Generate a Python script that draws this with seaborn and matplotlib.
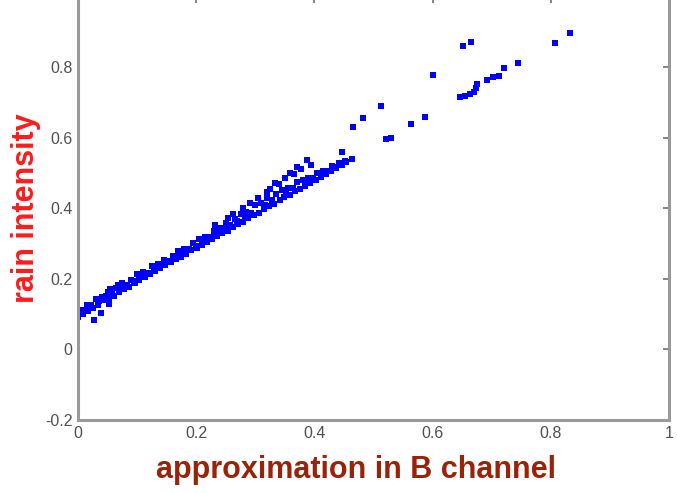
from pathlib import Path

import pandas as pd
import seaborn as sns
from matplotlib import pyplot as plt

# lower edge of the dense band
band_low_x = [
    0.000, 0.008, 0.017, 0.026, 0.034, 0.043, 0.052, 0.061, 0.069, 0.078,
    0.087, 0.096, 0.104, 0.113, 0.122, 0.131, 0.139, 0.148, 0.157, 0.166,
    0.174, 0.183, 0.192, 0.201, 0.209, 0.218, 0.227, 0.236, 0.244, 0.253,
    0.262, 0.271, 0.279, 0.288, 0.297, 0.306, 0.314, 0.323, 0.332, 0.341,
    0.349, 0.358, 0.367, 0.376, 0.384, 0.393, 0.402, 0.411, 0.419, 0.428,
    0.437, 0.446, 0.454, 0.463,
]
band_low_y = [
    0.093, 0.101, 0.108, 0.117, 0.127, 0.139, 0.146, 0.152, 0.163, 0.171,
    0.177, 0.188, 0.197, 0.206, 0.214, 0.223, 0.231, 0.238, 0.247, 0.256,
    0.262, 0.270, 0.281, 0.288, 0.295, 0.305, 0.312, 0.321, 0.330, 0.337,
    0.346, 0.356, 0.362, 0.372, 0.381, 0.388, 0.397, 0.406, 0.413, 0.423,
    0.431, 0.438, 0.448, 0.455, 0.464, 0.473, 0.480, 0.490, 0.498, 0.505,
    0.514, 0.524, 0.531, 0.541,
]

# middle of the dense band
band_mid_x = [
    0.010, 0.022, 0.036, 0.048, 0.058, 0.072, 0.083, 0.094, 0.107, 0.118,
    0.129, 0.142, 0.153, 0.164, 0.177, 0.188, 0.199, 0.212, 0.223, 0.234,
    0.247, 0.258, 0.269, 0.282, 0.293, 0.316, 0.328, 0.352, 0.363, 0.386,
    0.398, 0.421, 0.433, 0.451,
]
band_mid_y = [
    0.113, 0.125, 0.137, 0.151, 0.159, 0.173, 0.182, 0.195, 0.206, 0.217,
    0.227, 0.241, 0.250, 0.261, 0.272, 0.285, 0.294, 0.308, 0.319, 0.328,
    0.343, 0.352, 0.365, 0.376, 0.388, 0.409, 0.423, 0.445, 0.457, 0.476,
    0.486, 0.507, 0.518, 0.534,
]

# upper part of the dense band
band_high_x = [
    0.004, 0.015, 0.030, 0.041, 0.055, 0.064, 0.075, 0.090, 0.100, 0.110,
    0.125, 0.135, 0.145, 0.160, 0.170, 0.180, 0.195, 0.205, 0.215, 0.230,
    0.240, 0.250, 0.265, 0.275, 0.285, 0.300, 0.310, 0.320, 0.335, 0.345,
    0.355, 0.370, 0.380, 0.390, 0.405, 0.415, 0.430, 0.442,
]
band_high_y = [
    0.111, 0.127, 0.144, 0.150, 0.170, 0.174, 0.187, 0.198, 0.213, 0.220,
    0.236, 0.242, 0.254, 0.265, 0.279, 0.286, 0.301, 0.314, 0.319, 0.337,
    0.344, 0.358, 0.369, 0.383, 0.390, 0.408, 0.415, 0.428, 0.440, 0.453,
    0.458, 0.474, 0.480, 0.487, 0.500, 0.507, 0.520, 0.529,
]

# scattered points away from the band
spread_x = [
    0.027, 0.039, 0.052, 0.051, 0.068, 0.232, 0.254, 0.262, 0.280, 0.291,
    0.305, 0.319, 0.325, 0.333, 0.340, 0.350, 0.359, 0.365, 0.371, 0.378,
    0.387, 0.395, 0.447, 0.465, 0.482, 0.513, 0.521, 0.530, 0.563, 0.587,
    0.601, 0.646, 0.655, 0.663, 0.670, 0.673, 0.675, 0.651, 0.665, 0.692,
    0.702, 0.712, 0.721, 0.745, 0.807, 0.832,
]
spread_y = [
    0.083, 0.103, 0.128, 0.163, 0.182, 0.352, 0.372, 0.385, 0.400, 0.415,
    0.428, 0.446, 0.455, 0.471, 0.468, 0.485, 0.500, 0.497, 0.517, 0.512,
    0.537, 0.522, 0.559, 0.630, 0.656, 0.690, 0.596, 0.599, 0.638, 0.658,
    0.777, 0.715, 0.718, 0.724, 0.729, 0.740, 0.752, 0.859, 0.871, 0.763,
    0.772, 0.775, 0.797, 0.811, 0.868, 0.896,
]

x_ticks = [0, 0.2, 0.4, 0.6, 0.8, 1]
x_tick_labels = ["0", "0.2", "0.4", "0.6", "0.8", "1"]
y_ticks = [-0.2, 0, 0.2, 0.4, 0.6, 0.8]
y_tick_labels = ["-0.2", "0", "0.2", "0.4", "0.6", "0.8"]

AXIS_GREY = "#9a9a9a"
TICK_TEXT = "#505050"


def build_points() -> pd.DataFrame:
    xs = band_low_x + band_mid_x + band_high_x + spread_x
    ys = band_low_y + band_mid_y + band_high_y + spread_y
    return pd.DataFrame({"approx_b": xs, "rain": ys})


def save_scatter(df: pd.DataFrame, output_path: str | Path) -> Path:
    output_path = Path(output_path)

    sns.set_theme(style="white")
    plt.rcParams["font.family"] = ["Liberation Sans", "DejaVu Sans"]

    fig = plt.figure(figsize=(6.77, 4.93), dpi=100)
    # axes top sits just above the image edge, like the source
    ax = fig.add_axes([0.1152, 0.148, 0.873, 0.859])

    sns.scatterplot(
        data=df,
        x="approx_b",
        y="rain",
        marker="s",
        s=16,
        color="#0000ff",
        linewidth=0,
        ax=ax,
    )

    ax.set_xlim(0, 1)
    ax.set_ylim(-0.2, 1.0)
    ax.set_xticks(x_ticks, x_tick_labels)
    ax.set_yticks(y_ticks, y_tick_labels)
    ax.tick_params(
        direction="in",
        length=4,
        width=1.2,
        color="#707070",
        labelsize=11.5,
        labelcolor=TICK_TEXT,
        top=True,
        right=True,
        pad=4,
    )
    for spine in ax.spines.values():
        spine.set_visible(True)
        spine.set_color(AXIS_GREY)
        spine.set_linewidth(2.2)

    ax.set_xlabel("")
    ax.set_ylabel("")

    fig.text(
        356.5 / 677,
        (493 - 478) / 493,
        "approximation in B channel",
        ha="center",
        va="baseline",
        fontsize=22,
        fontweight="bold",
        color="#992208",
    )
    fig.text(
        34 / 677,
        (493 - 208.5) / 493,
        "rain intensity",
        ha="center",
        va="baseline",
        rotation=90,
        rotation_mode="anchor",
        fontsize=22,
        fontweight="bold",
        color="#ff1a1a",
    )

    fig.savefig(output_path, dpi=100)
    plt.close(fig)
    return output_path


if __name__ == "__main__":
    save_scatter(build_points(), "out.png")
